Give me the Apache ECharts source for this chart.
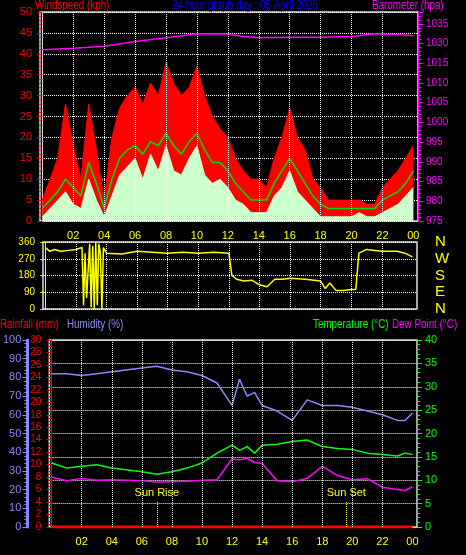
<!DOCTYPE html>
<html><head><meta charset="utf-8">
<script src="https://cdn.jsdelivr.net/npm/echarts@6/dist/echarts.min.js"></script>
<style>html,body{margin:0;padding:0;background:#000}#c{width:466px;height:555px}</style>
</head><body><div id="c"></div>
<script>
const hourLabels = ["02","04","06","08","10","12","14","16","18","20","22","00"];
const hourTicks = [2,4,6,8,10,12,14,16,18,20,22,24];
const windTimes = [0,0.5,1,1.5,2,2.5,3,3.5,4,4.5,5,5.5,6,6.5,7,7.5,8,8.5,9,9.5,10,10.5,11,11.5,12,12.5,13,13.5,14,14.5,15,15.5,16,16.5,17,17.5,18,18.5,19,19.5,20,20.5,21,21.5,22,22.5,23,23.5,24];
const gust = [5,10,15,28,18,10,28,17,5,20,27,30,32,28,33,30,38,33,30,32,37,30,25,22,20,15,12,10,10,8,15,20,27,20,17,10,8,5,5,5,5,5,4,4,8,10,12,15,18];
const avgSpeed = [3,5,7,10,8,6,14,9,3,10,15,17,18,16,19,18,21,18,16,19,21,17,14,14,12,9,7,5,5,5,9,12,15,12,9,6,4,3,3,3,3,3,3,3,5,6,7,9,12];
const speed = [1,3,5,7,4,3,10,5,1,6,11,13,15,10,16,12,18,12,11,15,18,11,9,10,8,5,4,2,2,2,6,8,12,7,5,3,1,1,1,1,1,2,1,1,2,3,4,6,8];
const baroTimes = [0,2,4,6,8,10,12,13,14,16,18,20,21.5,23,24];
const baro = [1025.2,1026.5,1028,1030.5,1031.5,1032.5,1032.4,1031.8,1031.5,1031.6,1031.6,1031.8,1032.5,1032.3,1032];
const baroTickLabels = ["975","980","985","990","995","1000","1005","1010","1015","1030","1035"];
const dirTimes = [0,0.3,0.6,1,1.5,2,2.4,2.5,2.6,2.7,2.9,3.0,3.1,3.2,3.3,3.4,3.5,3.6,3.7,3.8,4,5,6,7,8,9,10,11,12,12.2,12.5,13,13.5,14,14.5,15,15.5,16,17,18,18.3,18.6,19,19.5,20,20.3,20.5,21,22,23,23.5,24];
const dirVals = [330,310,320,310,315,320,330,20,300,60,350,10,340,0,360,20,350,300,0,330,300,295,310,305,300,305,300,305,300,180,160,150,155,130,120,160,160,165,160,150,110,140,100,100,105,105,300,320,310,310,300,280];
const climTimes = [0,1,2,3,4,6,7,8,9,10,11,12,12.5,13,13.5,14,15,16,17,18,19,20,21,22,23,23.5,24];
const humidity = [82,82,81,82,83,85,86,84,83,81,77,65,79,70,72,65,62,57,68,65,65,64,62,60,57,57,61];
const temperature = [13.7,12.6,13.0,13.3,12.6,11.8,11.3,11.8,12.6,13.7,15.8,17.5,16.4,17.2,15.8,17.5,17.7,18.3,18.6,17.2,16.8,16.6,15.8,15.5,15.2,15.8,15.5];
const dewPoint = [10.7,9.9,10.4,10.0,10.1,9.9,9.6,9.7,9.8,10.0,10.1,14.6,14.4,14.7,13.8,13.6,9.9,9.7,10.4,13.0,11.0,10.1,10.3,8.5,8.0,7.8,8.6];
const rainTimes = [0,24];
const rainfall = [0,0];

function baroStep(v){ if(v<=1015) return (v-975)/5; if(v<=1030) return 8+(v-1015)/15; return 9+(v-1030)/5; }
const pairs=(t,v,f)=>t.map((x,i)=>[x,f?f(v[i]):v[i]]);
const font='Liberation Sans';
const dot={type:'dotted',color:'#fff',width:1};
function xAx(gi,show){return {type:'value',gridIndex:gi,min:-0.15,max:24.3,
 axisLine:{show:false},axisTick:{show:false},splitLine:{show:false},
 axisLabel:{show:show,customValues:hourTicks,formatter:v=>hourLabels[hourTicks.indexOf(Math.round(v))]||'',color:'#ffff00',fontFamily:font,fontSize:11,margin:9}};}
const vlines=hourTicks.slice(0,11).map(h=>({xAxis:h}));
function vml(){return {silent:true,symbol:'none',label:{show:false},lineStyle:dot,data:vlines};}
const tf='12px Liberation Sans';
const txt=(x,y,t,c)=>({type:'text',x:x,y:y,scaleX:0.82,style:{text:t,fill:c,font:tf}});
const chart=echarts.init(document.getElementById('c'));
chart.setOption({
 backgroundColor:'#000',animation:false,
 grid:[{left:40,top:12,width:378,height:209,show:true,borderColor:'#ddd',borderWidth:1.5},
       {left:43,top:242,width:374,height:67,show:true,borderColor:'#ddd',borderWidth:1.5},
       {left:43,top:340,width:374,height:187,show:true,borderColor:'#ddd',borderWidth:1.5}],
 xAxis:[xAx(0,true),xAx(1,false),xAx(2,true)],
 yAxis:[
  {type:'value',gridIndex:0,min:0,max:50,interval:5,axisLine:{show:true,lineStyle:{color:'#ddd'}},axisTick:{show:true,lineStyle:{color:'#f00'}},minorTick:{show:true,splitNumber:5,lineStyle:{color:'#f00'}},axisLabel:{color:'#f00',fontFamily:font,fontSize:11},splitLine:{lineStyle:dot}},
  {type:'value',gridIndex:0,position:'right',min:0,max:10.6,interval:1,axisLine:{show:true,lineStyle:{color:'#f0f'}},axisTick:{show:true,lineStyle:{color:'#f0f'}},minorTick:{show:true,splitNumber:5,lineStyle:{color:'#f0f'}},axisLabel:{color:'#f0f',fontFamily:font,fontSize:10,showMaxLabel:false,formatter:v=>baroTickLabels[Math.round(v)]||''},splitLine:{show:false}},
  {type:'value',gridIndex:1,min:0,max:360,interval:90,axisLine:{show:true,lineStyle:{color:'#ddd'}},axisTick:{show:true,lineStyle:{color:'#ff0'}},axisLabel:{color:'#ff0',fontFamily:font,fontSize:10},splitLine:{lineStyle:dot}},
  {type:'value',gridIndex:1,position:'right',min:0,max:360,interval:90,axisLine:{show:false},axisTick:{show:false},splitLine:{show:false},axisLabel:{color:'#ff0',fontFamily:font,fontSize:15,margin:18,formatter:v=>({0:'N',90:'E',180:'S',270:'W',360:'N'})[v]}},
  {type:'value',gridIndex:2,position:'left',min:0,max:30,interval:2,axisLine:{show:true,lineStyle:{color:'#f00'}},axisTick:{show:true,lineStyle:{color:'#f00'}},minorTick:{show:true,splitNumber:4,lineStyle:{color:'#f00'}},axisLabel:{color:'#f00',fontFamily:font,fontSize:10},splitLine:{show:false}},
  {type:'value',gridIndex:2,position:'left',min:0,max:100,interval:10,offset:22,axisLine:{show:true,lineStyle:{color:'#88f',width:3}},axisTick:{show:true,lineStyle:{color:'#88f'}},minorTick:{show:true,splitNumber:5,lineStyle:{color:'#88f'}},axisLabel:{color:'#88f',fontFamily:font,fontSize:11,margin:6},splitLine:{show:false}},
  {type:'value',gridIndex:2,position:'right',min:0,max:40,interval:5,axisLine:{show:true,lineStyle:{color:'#0f0'}},axisTick:{show:true,lineStyle:{color:'#0f0'}},minorTick:{show:true,splitNumber:5,lineStyle:{color:'#0f0'}},axisLabel:{color:'#0f0',fontFamily:font,fontSize:11},splitLine:{lineStyle:dot}}
 ],
 series:[
  {type:'line',xAxisIndex:0,yAxisIndex:0,symbol:'none',data:pairs(windTimes,gust),lineStyle:{color:'#f00',width:1},areaStyle:{color:'#f00',opacity:1},markLine:vml()},
  {type:'line',xAxisIndex:0,yAxisIndex:0,symbol:'none',data:pairs(windTimes,speed),lineStyle:{color:'#ccffcc',width:1},areaStyle:{color:'#ccffcc',opacity:1}},
  {type:'line',xAxisIndex:0,yAxisIndex:0,symbol:'none',data:pairs(windTimes,avgSpeed),lineStyle:{color:'#00e000',width:1.5}},
  {type:'line',xAxisIndex:0,yAxisIndex:1,symbol:'none',data:pairs(baroTimes,baro,baroStep),lineStyle:{color:'#f0f',width:1.5}},
  {type:'line',xAxisIndex:1,yAxisIndex:2,symbol:'none',data:pairs(dirTimes,dirVals),lineStyle:{color:'#ff0',width:1.5},markLine:vml()},
  {type:'line',xAxisIndex:2,yAxisIndex:4,symbol:'none',data:pairs(rainTimes,rainfall),lineStyle:{color:'#f00',width:3},markLine:{silent:true,symbol:'none',lineStyle:{type:'dotted',color:'#ff0',width:1},
    label:{show:true,position:'end',color:'#ff0',fontFamily:font,fontSize:11,formatter:p=>p.name,distance:4},
    data:[...vlines.map(v=>({xAxis:v.xAxis,lineStyle:dot,label:{show:false}})),[{name:'Sun Rise',coord:[7,0]},{coord:[7,4]}],[{name:'Sun Set',coord:[19.6,0]},{coord:[19.6,4]}]]}},
  {type:'line',xAxisIndex:2,yAxisIndex:5,symbol:'none',data:pairs(climTimes,humidity),lineStyle:{color:'#88f',width:1.5}},
  {type:'line',xAxisIndex:2,yAxisIndex:6,symbol:'none',data:pairs(climTimes,temperature),lineStyle:{color:'#0f0',width:1.5}},
  {type:'line',xAxisIndex:2,yAxisIndex:6,symbol:'none',data:pairs(climTimes,dewPoint),lineStyle:{color:'#f0f',width:1.5}}
 ],
 graphic:[
  txt(35,0,'Windspeed (kph)','#f00'),
  txt(172,0,'24 hour graph day : 05 April 2026','#00f'),
  txt(372,0,'Barometer (hpa)','#f0f'),
  txt(0,319,'Rainfall (mm)','#f00'),
  txt(67,319,'Humidity (%)','#88f'),
  txt(313,319,'Temperature (°C)','#0f0'),
  txt(392,319,'Dew Point (°C)','#f0f')
 ]
});
</script></body></html>
